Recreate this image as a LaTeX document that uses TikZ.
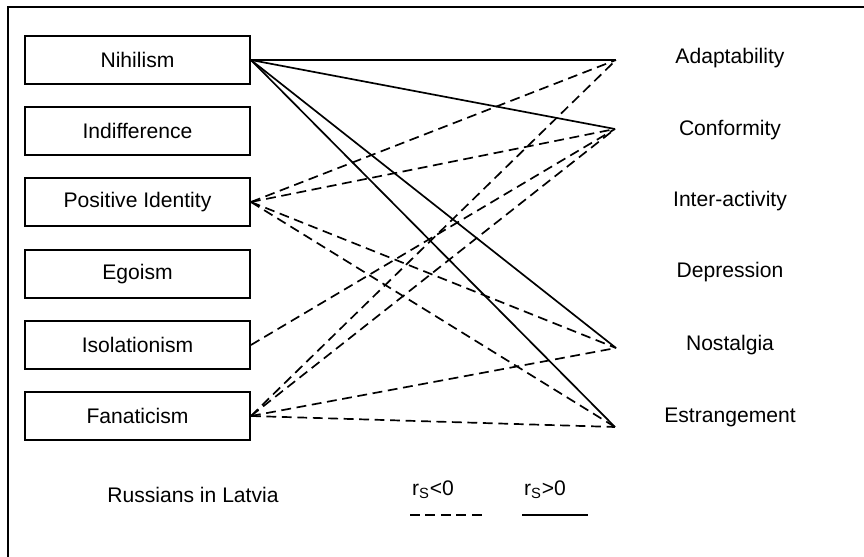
\documentclass[tikz,border=0pt]{standalone}
\usepackage{fontspec}
\setmainfont{Liberation Sans}
\usepackage{tikz}
\usetikzlibrary{positioning}
\tikzset{
  trait/.style={rectangle, draw=black, line width=1.3pt,
    minimum width=5.625cm, minimum height=1.2cm, inner sep=0pt,
    font=\fontsize{15}{18}\selectfont},
  scalelbl/.style={font=\fontsize{15}{18}\selectfont, inner sep=0pt},
  poscorr/.style={line width=1.2pt, color=black},
  negcorr/.style={line width=1.2pt, color=black, dash pattern=on 7pt off 4pt},
  frame/.style={line width=1.6pt, color=black}
}
\begin{document}
\begin{tikzpicture}[x=0.025cm, y=-0.025cm]
  \useasboundingbox (0,0) rectangle (864,557);
  \draw[frame] (864,7) -- (8,7) -- (8,557);

  % Attitude boxes
  \node[trait] (nih)   at (137.5,60)  {Nihilism};
  \node[trait] (ind)   at (137.5,131) {Indifference};
  \node[trait] (posid) at (137.5,202) {Positive Identity};
  \node[trait] (ego)   at (137.5,274) {Egoism};
  \node[trait] (iso)   at (137.5,345) {Isolationism};
  \node[trait] (fan)   at (137.5,416) {Fanaticism};

  % Scales
  \node[scalelbl] (adapt) at (730,58)  {Adaptability};
  \node[scalelbl] (conf)  at (730,130) {Conformity};
  \node[scalelbl] (inter) at (730,201) {Inter-activity};
  \node[scalelbl] (depr)  at (730,272) {Depression};
  \node[scalelbl] (nost)  at (730,345) {Nostalgia};
  \node[scalelbl] (estr)  at (730,417) {Estrangement};

  \coordinate (adaptend) at (616,60);
  \coordinate (confend)  at (615,129);
  \coordinate (nostend)  at (616,348);
  \coordinate (estrend)  at (615,427);

  % r_S > 0
  \draw[poscorr] (nih.east) -- (adaptend);
  \draw[poscorr] (nih.east) -- (confend);
  \draw[poscorr] (nih.east) -- (nostend);
  \draw[poscorr] (nih.east) -- (estrend);

  % r_S < 0
  \draw[negcorr] (posid.east) -- (adaptend);
  \draw[negcorr] (posid.east) -- (confend);
  \draw[negcorr] (posid.east) -- (nostend);
  \draw[negcorr] (posid.east) -- (estrend);
  \draw[negcorr] (iso.east) -- (confend);
  \draw[negcorr] (fan.east) -- (adaptend);
  \draw[negcorr] (fan.east) -- (confend);
  \draw[negcorr] (fan.east) -- (nostend);
  \draw[negcorr] (fan.east) -- (estrend);

  % Legend
  \node[scalelbl] (group) at (193,495) {Russians in Latvia};
  \node[scalelbl] (neglbl) at (433,490) {r\textsubscript{S}<0};
  \node[scalelbl] (poslbl) at (545,490) {r\textsubscript{S}>0};
  \coordinate (negstart) at (410,515);
  \coordinate (negend)   at (485,515);
  \coordinate (posstart) at (522,515);
  \coordinate (posend)   at (588,515);
  \draw[negcorr] (negstart) -- (negend);
  \draw[poscorr] (posstart) -- (posend);
\end{tikzpicture}
\end{document}
